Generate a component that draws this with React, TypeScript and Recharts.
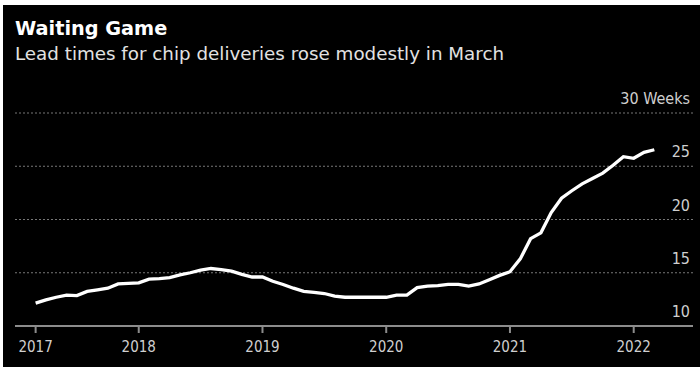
import React from 'react';
import { LineChart, Line, XAxis, YAxis, ReferenceLine } from 'recharts';

// monthly lead times (weeks), Mar 2017 .. Mar 2022
const months = [
  '2017-03', '2017-04', '2017-05', '2017-06', '2017-07', '2017-08', '2017-09', '2017-10', '2017-11', '2017-12',
  '2018-01', '2018-02', '2018-03', '2018-04', '2018-05', '2018-06', '2018-07', '2018-08', '2018-09', '2018-10', '2018-11', '2018-12',
  '2019-01', '2019-02', '2019-03', '2019-04', '2019-05', '2019-06', '2019-07', '2019-08', '2019-09', '2019-10', '2019-11', '2019-12',
  '2020-01', '2020-02', '2020-03', '2020-04', '2020-05', '2020-06', '2020-07', '2020-08', '2020-09', '2020-10', '2020-11', '2020-12',
  '2021-01', '2021-02', '2021-03', '2021-04', '2021-05', '2021-06', '2021-07', '2021-08', '2021-09', '2021-10', '2021-11', '2021-12',
  '2022-01', '2022-02', '2022-03',
];
const leadWeeks = [
  12.15, 12.45, 12.7, 12.9, 12.85, 13.25, 13.4, 13.55, 13.95, 14.0,
  14.05, 14.4, 14.45, 14.55, 14.8, 15.0, 15.25, 15.4, 15.3, 15.15, 14.85, 14.6,
  14.6, 14.2, 13.9, 13.55, 13.25, 13.15, 13.05, 12.8, 12.7, 12.7, 12.7, 12.7,
  12.7, 12.9, 12.9, 13.6, 13.75, 13.8, 13.9, 13.9, 13.75, 13.95, 14.35, 14.75,
  15.1, 16.3, 18.2, 18.75, 20.65, 22.0, 22.7, 23.35, 23.85, 24.35, 25.1, 25.9,
  25.75, 26.3, 26.55,
];
const tickMonths = ['2017-03', '2018-01', '2019-01', '2020-01', '2021-01', '2022-01'];
const gridValues = [15, 20, 25, 30];
const FONT = '"DejaVu Sans Condensed", "DejaVu Sans", sans-serif';

// months since Jan 2017
const toIdx = (s: string) => {
  const [y, m] = s.split('-').map(Number);
  return (y - 2017) * 12 + (m - 1);
};
const data = months.map((d, i) => ({ m: toIdx(d), v: leadWeeks[i] }));
const ticks = tickMonths.map(toIdx);
const fmtTick = (m: number) => String(2017 + Math.floor(m / 12));

const GridLabel = ({ viewBox, text }: any) => {
  if (!viewBox) return null;
  return (
    <text x={viewBox.x + viewBox.width - 3} y={viewBox.y - 9} textAnchor="end"
      fill="#cfcfcf" fontSize={16} fontFamily={FONT}>{text}</text>
  );
};

export default function App() {
  return (
    <div style={{ position: 'absolute', left: 0, top: 0, width: 700, height: 367, background: '#fff', overflow: 'hidden' }}>
      <div style={{ position: 'absolute', left: 3, top: 5, width: 697, height: 362, background: '#000' }} />
      <div style={{ position: 'absolute', left: 15, top: 17, color: '#fff', fontFamily: '"DejaVu Sans", sans-serif', fontWeight: 'bold', fontSize: 19.3, lineHeight: '24px', whiteSpace: 'nowrap' }}>
        Waiting Game
      </div>
      <div style={{ position: 'absolute', left: 15, top: 42, color: '#e2e2e2', fontFamily: '"DejaVu Sans", sans-serif', fontSize: 18.3, lineHeight: '24px', whiteSpace: 'nowrap' }}>
        Lead times for chip deliveries rose modestly in March
      </div>
      <div style={{ position: 'absolute', left: 0, top: 0 }}>
        <LineChart width={700} height={367} data={data} margin={{ top: 113, right: 7, bottom: 0, left: 15 }}>
          <XAxis dataKey="m" type="number" domain={[0, 65.75]} ticks={ticks} interval={0}
            tickFormatter={fmtTick} height={41} tickSize={7} tickMargin={8}
            axisLine={{ stroke: '#8c8c8c', strokeWidth: 2 }} tickLine={{ stroke: '#8c8c8c', strokeWidth: 2 }}
            tick={{ fill: '#cfcfcf', fontSize: 15, fontFamily: FONT }} />
          <YAxis hide domain={[10, 30]} />
          {gridValues.map((g) => (
            <ReferenceLine key={g} y={g} stroke="#777" strokeWidth={1.2} strokeDasharray="2 2"
              label={<GridLabel text={g === 30 ? '30 Weeks' : String(g)} />} />
          ))}
          <ReferenceLine y={10} stroke="none" label={<GridLabel text="10" />} />
          <Line type="linear" dataKey="v" stroke="#fff" strokeWidth={3.3} dot={false} isAnimationActive={false} />
        </LineChart>
      </div>
    </div>
  );
}
